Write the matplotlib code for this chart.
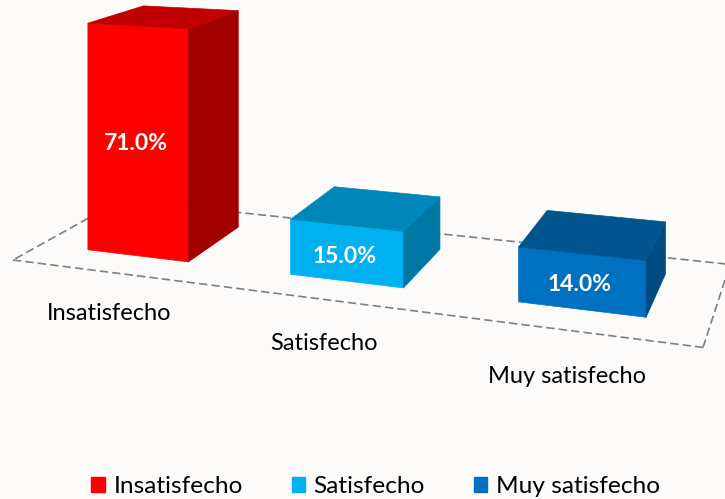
import numpy as np
import matplotlib.pyplot as plt
from matplotlib.patches import Polygon, Patch

categorias = ['Insatisfecho', 'Satisfecho', 'Muy satisfecho']
porcentajes = [71.0, 15.0, 14.0]
etiquetas = ['71.0%', '15.0%', '14.0%']

color_frente = ['#ff0000', '#00b0f0', '#0070c0']
color_arriba = ['#c00000', '#0087b9', '#00558f']
color_lado = ['#a30000', '#0077a5', '#004c82']

plt.rcParams['font.family'] = ['Lato', 'DejaVu Sans']

# camara: puntos de fuga del piso (en pixeles) y esquina frontal izquierda
vp_x = np.array([-3380.0, -170.0, 1.0]) * -0.169
vp_z = np.array([890.0, -227.0, 1.0]) * 0.1404
eje_y = np.array([0.0, -3.18, 0.0])
origen = np.array([13.0, 260.0, 1.0])
P = np.column_stack([vp_x, eje_y, vp_z, origen])

y_piso = -1.65      # nivel del piso en el eje de valores
ancho = 0.17        # ancho de barra (fraccion del piso)
z0, z1 = 0.24, 0.78  # profundidad de las barras


def proyectar(x, y, z):
    p = P @ np.array([x, y, z, 1.0])
    return p[0] / p[2], p[1] / p[2]


fig = plt.figure(figsize=(7.25, 4.99), dpi=100)
fig.patch.set_facecolor('#fcfbf9')
ax = fig.add_axes([0, 0, 1, 1])
ax.set_xlim(0, 725)
ax.set_ylim(499, 0)
ax.axis('off')

# piso
esquinas = [(0, 0), (1, 0), (1, 1), (0, 1), (0, 0)]
pts = [proyectar(x, 0, z) for x, z in esquinas]
for a, b in zip(pts[:-1], pts[1:]):
    ax.plot([a[0], b[0]], [a[1], b[1]], color='#7f7f7f', lw=1.2,
            ls=(0, (5, 2.5)), zorder=1)

for i, v in enumerate(porcentajes):
    xc = (i + 0.5) / len(categorias)
    x0, x1 = xc - ancho / 2, xc + ancho / 2
    h = v - y_piso
    caras = [
        ([(x0, 0, z0), (x1, 0, z0), (x1, h, z0), (x0, h, z0)], color_frente[i]),
        ([(x1, 0, z0), (x1, 0, z1), (x1, h, z1), (x1, h, z0)], color_lado[i]),
        ([(x0, h, z0), (x1, h, z0), (x1, h, z1), (x0, h, z1)], color_arriba[i]),
    ]
    for vert, col in caras:
        poly = Polygon([proyectar(*p) for p in vert], closed=True,
                       facecolor=col, edgecolor=col, lw=0.5, zorder=3)
        ax.add_patch(poly)

    tx, ty = proyectar(xc, h / 2, z0)
    ax.text(tx - 2, ty + 3, etiquetas[i], color='white', fontsize=16.5,
            fontweight='bold', ha='center', va='center', zorder=5)

    # etiqueta de categoria debajo del borde frontal del piso
    lx, ly = proyectar(xc, -12.5, 0)
    ax.text(lx - 2, ly, categorias[i], color='black', fontsize=17,
            ha='center', va='center', zorder=5)

handles = [Patch(facecolor=c, edgecolor=c) for c in color_frente]
fig.legend(handles, categorias, loc='lower center', ncol=3, frameon=False,
           bbox_to_anchor=(0.518, -0.04), fontsize=17.6, handlelength=0.55,
           handleheight=0.55, handletextpad=0.35, columnspacing=2.0)

fig.savefig('out.png', dpi=100, facecolor=fig.get_facecolor())
